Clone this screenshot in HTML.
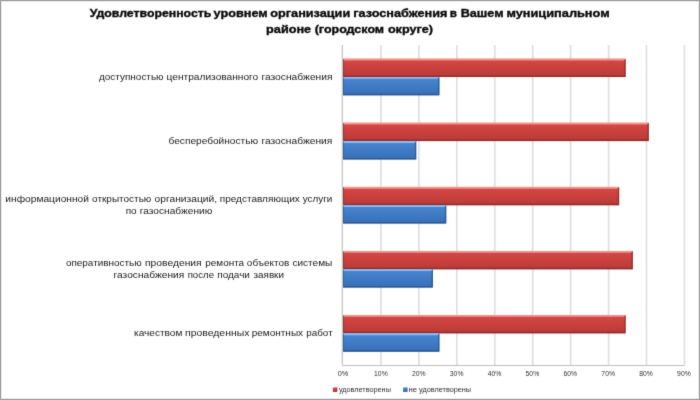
<!DOCTYPE html>
<html lang="ru">
<head>
<meta charset="utf-8">
<title>Удовлетворенность уровнем организации газоснабжения</title>
<style>
html,body{margin:0;padding:0;background:#fff;}
body{width:700px;height:400px;overflow:hidden;}
svg{display:block;font-family:"Liberation Sans", "DejaVu Sans", sans-serif;}
</style>
</head>
<body>
<svg width="700" height="400" viewBox="0 0 700 400">
<defs>
<linearGradient id="gr" x1="0" y1="0" x2="0" y2="1">
<stop offset="0" stop-color="#d64946"/><stop offset="0.5" stop-color="#c9403d"/><stop offset="1" stop-color="#b73a38"/>
</linearGradient>
<linearGradient id="gb" x1="0" y1="0" x2="0" y2="1">
<stop offset="0" stop-color="#4a88d2"/><stop offset="0.5" stop-color="#3f7bc4"/><stop offset="1" stop-color="#376fb4"/>
</linearGradient>
<filter id="soft" filterUnits="userSpaceOnUse" x="-5" y="-5" width="710" height="410" color-interpolation-filters="sRGB"><feConvolveMatrix order="3" kernelMatrix="0.0113 0.0838 0.0113 0.0838 0.6193 0.0838 0.0113 0.0838 0.0113" divisor="1" edgeMode="duplicate" preserveAlpha="true"/></filter>
</defs>
<rect x="0" y="0" width="700" height="400" fill="#ffffff"/>
<g id="chart" filter="url(#soft)">
<rect x="-5" y="-5" width="710" height="410" fill="#ffffff"/>

<g id="frame">
<rect x="1.5" y="1.5" width="697" height="397" fill="none" stroke="#f0f0f0" stroke-width="1"/>
<rect x="0.5" y="0.5" width="699" height="399" fill="none" stroke="#8c8c8c" stroke-width="1"/>
</g>
<g id="title">
<text y="17.35" font-size="10.9" font-weight="bold" fill="#0a0a0a" stroke="#0a0a0a" stroke-width="0.35"><tspan x="89.70" textLength="121.60" lengthAdjust="spacingAndGlyphs">Удовлетворенность</tspan> <tspan x="213.50" textLength="54.20" lengthAdjust="spacingAndGlyphs">уровнем</tspan> <tspan x="270.30" textLength="79.90" lengthAdjust="spacingAndGlyphs">организации</tspan> <tspan x="353.30" textLength="94.00" lengthAdjust="spacingAndGlyphs">газоснабжения</tspan> <tspan x="449.80" textLength="7.20" lengthAdjust="spacingAndGlyphs">в</tspan> <tspan x="460.70" textLength="42.90" lengthAdjust="spacingAndGlyphs">Вашем</tspan> <tspan x="506.40" textLength="103.30" lengthAdjust="spacingAndGlyphs">муниципальном</tspan></text>
<text y="32.6" font-size="10.9" font-weight="bold" fill="#0a0a0a" stroke="#0a0a0a" stroke-width="0.35"><tspan x="266.10" textLength="45.10" lengthAdjust="spacingAndGlyphs">районе</tspan> <tspan x="314.70" textLength="69.40" lengthAdjust="spacingAndGlyphs">(городском</tspan> <tspan x="387.90" textLength="45.20" lengthAdjust="spacingAndGlyphs">округе)</tspan></text>
</g>
<g id="grid" stroke="#dedede" stroke-width="1.6">
<line x1="380.94" y1="45.0" x2="380.94" y2="365.5"/>
<line x1="418.88" y1="45.0" x2="418.88" y2="365.5"/>
<line x1="456.82" y1="45.0" x2="456.82" y2="365.5"/>
<line x1="494.76" y1="45.0" x2="494.76" y2="365.5"/>
<line x1="532.70" y1="45.0" x2="532.70" y2="365.5"/>
<line x1="570.64" y1="45.0" x2="570.64" y2="365.5"/>
<line x1="608.58" y1="45.0" x2="608.58" y2="365.5"/>
<line x1="646.52" y1="45.0" x2="646.52" y2="365.5"/>
<line x1="684.46" y1="45.0" x2="684.46" y2="365.5"/>
</g>
<g id="axes" stroke="#c0c0c0" stroke-width="1.2">
<line x1="342.3" y1="45.0" x2="342.3" y2="365.5"/>
<line x1="342.5" y1="365.5" x2="684.5" y2="365.5"/>
</g>
<g id="bars">
<rect x="343.00" y="58.74" width="282.60" height="18.30" fill="url(#gr)"/>
<path d="M343.00 58.74H625.60L624.30 60.54H344.00Z" fill="#f79a96" opacity="0.9"/>
<path d="M343.00 58.74L344.00 60.14V75.54L343.00 77.04Z" fill="#8a2a28" opacity="0.6"/>
<path d="M343.00 77.04L344.00 75.54H624.30L625.60 77.04Z" fill="#8a2a28" opacity="0.8"/>
<path d="M625.60 58.74V77.04L624.30 75.54V60.14Z" fill="#8a2a28" opacity="0.8"/>
<rect x="343.00" y="77.04" width="96.40" height="18.30" fill="url(#gb)"/>
<path d="M343.00 77.04H439.40L438.10 78.84H344.00Z" fill="#8cc4ff" opacity="0.9"/>
<path d="M343.00 77.04L344.00 78.44V93.84L343.00 95.34Z" fill="#28548c" opacity="0.6"/>
<path d="M343.00 95.34L344.00 93.84H438.10L439.40 95.34Z" fill="#28548c" opacity="0.8"/>
<path d="M439.40 77.04V95.34L438.10 93.84V78.44Z" fill="#28548c" opacity="0.8"/>
<rect x="343.00" y="122.82" width="305.78" height="18.30" fill="url(#gr)"/>
<path d="M343.00 122.82H648.78L647.48 124.62H344.00Z" fill="#f79a96" opacity="0.9"/>
<path d="M343.00 122.82L344.00 124.22V139.62L343.00 141.12Z" fill="#8a2a28" opacity="0.6"/>
<path d="M343.00 141.12L344.00 139.62H647.48L648.78 141.12Z" fill="#8a2a28" opacity="0.8"/>
<path d="M648.78 122.82V141.12L647.48 139.62V124.22Z" fill="#8a2a28" opacity="0.8"/>
<rect x="343.00" y="141.12" width="73.22" height="18.30" fill="url(#gb)"/>
<path d="M343.00 141.12H416.22L414.92 142.92H344.00Z" fill="#8cc4ff" opacity="0.9"/>
<path d="M343.00 141.12L344.00 142.52V157.92L343.00 159.42Z" fill="#28548c" opacity="0.6"/>
<path d="M343.00 159.42L344.00 157.92H414.92L416.22 159.42Z" fill="#28548c" opacity="0.8"/>
<path d="M416.22 141.12V159.42L414.92 157.92V142.52Z" fill="#28548c" opacity="0.8"/>
<rect x="343.00" y="186.90" width="276.14" height="18.30" fill="url(#gr)"/>
<path d="M343.00 186.90H619.14L617.84 188.70H344.00Z" fill="#f79a96" opacity="0.9"/>
<path d="M343.00 186.90L344.00 188.30V203.70L343.00 205.20Z" fill="#8a2a28" opacity="0.6"/>
<path d="M343.00 205.20L344.00 203.70H617.84L619.14 205.20Z" fill="#8a2a28" opacity="0.8"/>
<path d="M619.14 186.90V205.20L617.84 203.70V188.30Z" fill="#8a2a28" opacity="0.8"/>
<rect x="343.00" y="205.20" width="103.24" height="18.30" fill="url(#gb)"/>
<path d="M343.00 205.20H446.24L444.94 207.00H344.00Z" fill="#8cc4ff" opacity="0.9"/>
<path d="M343.00 205.20L344.00 206.60V222.00L343.00 223.50Z" fill="#28548c" opacity="0.6"/>
<path d="M343.00 223.50L344.00 222.00H444.94L446.24 223.50Z" fill="#28548c" opacity="0.8"/>
<path d="M446.24 205.20V223.50L444.94 222.00V206.60Z" fill="#28548c" opacity="0.8"/>
<rect x="343.00" y="250.98" width="289.82" height="18.30" fill="url(#gr)"/>
<path d="M343.00 250.98H632.82L631.52 252.78H344.00Z" fill="#f79a96" opacity="0.9"/>
<path d="M343.00 250.98L344.00 252.38V267.78L343.00 269.28Z" fill="#8a2a28" opacity="0.6"/>
<path d="M343.00 269.28L344.00 267.78H631.52L632.82 269.28Z" fill="#8a2a28" opacity="0.8"/>
<path d="M632.82 250.98V269.28L631.52 267.78V252.38Z" fill="#8a2a28" opacity="0.8"/>
<rect x="343.00" y="269.28" width="89.94" height="18.30" fill="url(#gb)"/>
<path d="M343.00 269.28H432.94L431.64 271.08H344.00Z" fill="#8cc4ff" opacity="0.9"/>
<path d="M343.00 269.28L344.00 270.68V286.08L343.00 287.58Z" fill="#28548c" opacity="0.6"/>
<path d="M343.00 287.58L344.00 286.08H431.64L432.94 287.58Z" fill="#28548c" opacity="0.8"/>
<path d="M432.94 269.28V287.58L431.64 286.08V270.68Z" fill="#28548c" opacity="0.8"/>
<rect x="343.00" y="315.06" width="282.60" height="18.30" fill="url(#gr)"/>
<path d="M343.00 315.06H625.60L624.30 316.86H344.00Z" fill="#f79a96" opacity="0.9"/>
<path d="M343.00 315.06L344.00 316.46V331.86L343.00 333.36Z" fill="#8a2a28" opacity="0.6"/>
<path d="M343.00 333.36L344.00 331.86H624.30L625.60 333.36Z" fill="#8a2a28" opacity="0.8"/>
<path d="M625.60 315.06V333.36L624.30 331.86V316.46Z" fill="#8a2a28" opacity="0.8"/>
<rect x="343.00" y="333.36" width="96.40" height="18.30" fill="url(#gb)"/>
<path d="M343.00 333.36H439.40L438.10 335.16H344.00Z" fill="#8cc4ff" opacity="0.9"/>
<path d="M343.00 333.36L344.00 334.76V350.16L343.00 351.66Z" fill="#28548c" opacity="0.6"/>
<path d="M343.00 351.66L344.00 350.16H438.10L439.40 351.66Z" fill="#28548c" opacity="0.8"/>
<path d="M439.40 333.36V351.66L438.10 350.16V334.76Z" fill="#28548c" opacity="0.8"/>
</g>
<g id="cats">
<text y="79.6" font-size="8.2" font-weight="normal" fill="#202020"><tspan x="99.05" textLength="64.50" lengthAdjust="spacingAndGlyphs">доступностью</tspan> <tspan x="166.55" textLength="91.70" lengthAdjust="spacingAndGlyphs">централизованного</tspan> <tspan x="261.45" textLength="71.10" lengthAdjust="spacingAndGlyphs">газоснабжения</tspan></text>
<text y="144.0" font-size="8.2" font-weight="normal" fill="#202020"><tspan x="168.55" textLength="89.50" lengthAdjust="spacingAndGlyphs">бесперебойностью</tspan> <tspan x="261.45" textLength="70.90" lengthAdjust="spacingAndGlyphs">газоснабжения</tspan></text>
<text y="201.7" font-size="8.2" font-weight="normal" fill="#202020"><tspan x="5.35" textLength="83.60" lengthAdjust="spacingAndGlyphs">информационной</tspan> <tspan x="92.05" textLength="59.30" lengthAdjust="spacingAndGlyphs">открытостью</tspan> <tspan x="154.55" textLength="62.50" lengthAdjust="spacingAndGlyphs">организаций,</tspan> <tspan x="219.75" textLength="80.00" lengthAdjust="spacingAndGlyphs">представляющих</tspan> <tspan x="302.75" textLength="29.60" lengthAdjust="spacingAndGlyphs">услуги</tspan></text>
<text y="213.7" font-size="8.2" font-weight="normal" fill="#202020"><tspan x="125.65" textLength="11.00" lengthAdjust="spacingAndGlyphs">по</tspan> <tspan x="139.85" textLength="72.40" lengthAdjust="spacingAndGlyphs">газоснабжению</tspan></text>
<text y="266.1" font-size="8.2" font-weight="normal" fill="#202020"><tspan x="65.95" textLength="75.70" lengthAdjust="spacingAndGlyphs">оперативностью</tspan> <tspan x="145.05" textLength="56.60" lengthAdjust="spacingAndGlyphs">проведения</tspan> <tspan x="205.25" textLength="38.90" lengthAdjust="spacingAndGlyphs">ремонта</tspan> <tspan x="246.85" textLength="42.50" lengthAdjust="spacingAndGlyphs">объектов</tspan> <tspan x="292.45" textLength="39.90" lengthAdjust="spacingAndGlyphs">системы</tspan></text>
<text y="277.6" font-size="8.2" font-weight="normal" fill="#202020"><tspan x="113.55" textLength="70.70" lengthAdjust="spacingAndGlyphs">газоснабжения</tspan> <tspan x="187.65" textLength="26.40" lengthAdjust="spacingAndGlyphs">после</tspan> <tspan x="217.25" textLength="32.70" lengthAdjust="spacingAndGlyphs">подачи</tspan> <tspan x="253.55" textLength="30.40" lengthAdjust="spacingAndGlyphs">заявки</tspan></text>
<text y="336.3" font-size="8.2" font-weight="normal" fill="#202020"><tspan x="134.05" textLength="48.30" lengthAdjust="spacingAndGlyphs">качеством</tspan> <tspan x="185.05" textLength="64.30" lengthAdjust="spacingAndGlyphs">проведенных</tspan> <tspan x="251.75" textLength="51.30" lengthAdjust="spacingAndGlyphs">ремонтных</tspan> <tspan x="306.25" textLength="26.40" lengthAdjust="spacingAndGlyphs">работ</tspan></text>
</g>
<g id="ticks">
<text y="376.3" font-size="6.4" font-weight="normal" fill="#303030"><tspan x="337.70" textLength="10.60" lengthAdjust="spacingAndGlyphs">0%</tspan></text>
<text y="376.3" font-size="6.4" font-weight="normal" fill="#303030"><tspan x="374.08" textLength="13.60" lengthAdjust="spacingAndGlyphs">10%</tspan></text>
<text y="376.3" font-size="6.4" font-weight="normal" fill="#303030"><tspan x="411.96" textLength="13.60" lengthAdjust="spacingAndGlyphs">20%</tspan></text>
<text y="376.3" font-size="6.4" font-weight="normal" fill="#303030"><tspan x="449.84" textLength="13.60" lengthAdjust="spacingAndGlyphs">30%</tspan></text>
<text y="376.3" font-size="6.4" font-weight="normal" fill="#303030"><tspan x="487.72" textLength="13.60" lengthAdjust="spacingAndGlyphs">40%</tspan></text>
<text y="376.3" font-size="6.4" font-weight="normal" fill="#303030"><tspan x="525.60" textLength="13.60" lengthAdjust="spacingAndGlyphs">50%</tspan></text>
<text y="376.3" font-size="6.4" font-weight="normal" fill="#303030"><tspan x="563.48" textLength="13.60" lengthAdjust="spacingAndGlyphs">60%</tspan></text>
<text y="376.3" font-size="6.4" font-weight="normal" fill="#303030"><tspan x="601.36" textLength="13.60" lengthAdjust="spacingAndGlyphs">70%</tspan></text>
<text y="376.3" font-size="6.4" font-weight="normal" fill="#303030"><tspan x="639.24" textLength="13.60" lengthAdjust="spacingAndGlyphs">80%</tspan></text>
<text y="376.3" font-size="6.4" font-weight="normal" fill="#303030"><tspan x="677.12" textLength="13.60" lengthAdjust="spacingAndGlyphs">90%</tspan></text>
</g>
<g id="legend">
<rect x="332.9" y="387.5" width="4.3" height="4.3" fill="url(#gr)"/><path d="M337.2 387.5V391.8H332.9V391H336.4V387.5Z" fill="#8a2a28" opacity="0.7"/>
<text y="391.9" font-size="6.8" font-weight="normal" fill="#303030"><tspan x="338.90" textLength="52.00" lengthAdjust="spacingAndGlyphs">удовлетворены</tspan></text>
<rect x="403.1" y="387.5" width="4.3" height="4.3" fill="url(#gb)"/><path d="M407.4 387.5V391.8H403.1V391H406.6V387.5Z" fill="#28548c" opacity="0.7"/>
<text y="391.9" font-size="6.8" font-weight="normal" fill="#303030"><tspan x="408.60" textLength="8.60" lengthAdjust="spacingAndGlyphs">не</tspan> <tspan x="419.10" textLength="52.00" lengthAdjust="spacingAndGlyphs">удовлетворены</tspan></text>
</g>
</g>
</svg>
</body>
</html>
